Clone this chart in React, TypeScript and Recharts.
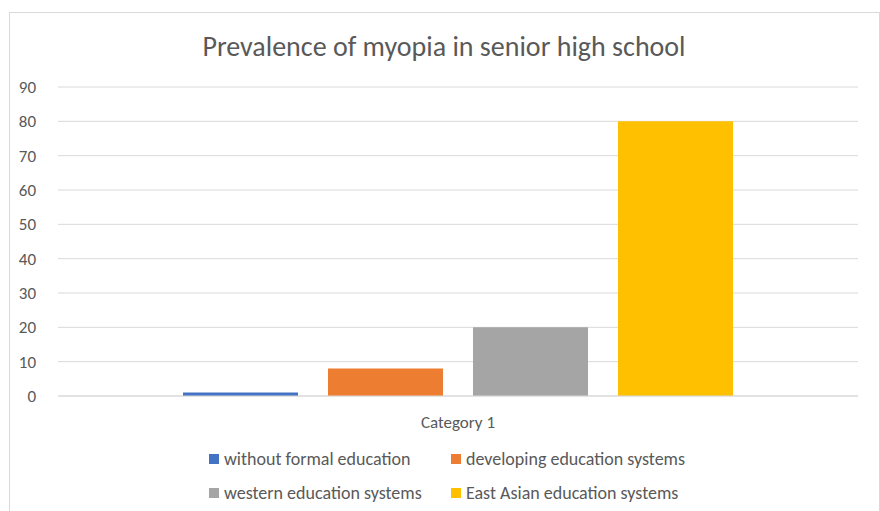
import { BarChart, Bar, XAxis, YAxis, CartesianGrid, Legend } from 'recharts';

const categories = ['Category 1'];
const seriesNames = [
  'without formal education',
  'developing education systems',
  'western education systems',
  'East Asian education systems',
];
const seriesValues = [1, 8, 20, 80];
const seriesColors = ['#4472C4', '#ED7D31', '#A5A5A5', '#FFC000'];
const yTicks = [0, 10, 20, 30, 40, 50, 60, 70, 80, 90];

const FONT = "Calibri, Carlito, 'Noto Sans', sans-serif";
const TEXT = '#595959';

const data = categories.map((name) => {
  const row: { [key: string]: string | number } = { name };
  seriesNames.forEach((s, i) => {
    row[`s${i}`] = seriesValues[i];
  });
  return row;
});

const LegendGrid = () => (
  <div
    style={{
      display: 'grid',
      gridTemplateColumns: '242px 280px',
      rowGap: 12,
      marginLeft: 209,
      paddingTop: 12,
      fontFamily: FONT,
      fontSize: 18,
      color: TEXT,
    }}
  >
    {seriesNames.map((s, i) => (
      <span key={s} style={{ display: 'flex', alignItems: 'center', height: 22, whiteSpace: 'nowrap' }}>
        <span style={{ width: 10, height: 10, background: seriesColors[i], marginRight: 5, flexShrink: 0 }} />
        {s}
      </span>
    ))}
  </div>
);

export default function App() {
  return (
    <div style={{ position: 'absolute', left: 0, top: 0, width: 880, height: 511, background: '#fff', overflow: 'hidden' }}>
      <div
        style={{
          position: 'absolute',
          left: 9,
          top: 12,
          width: 869,
          height: 540,
          border: '1px solid #d9d9d9',
        }}
      />
      <div
        style={{
          position: 'absolute',
          left: 0,
          width: 888,
          top: 29,
          textAlign: 'center',
          fontFamily: FONT,
          fontSize: 28,
          color: TEXT,
        }}
      >
        Prevalence of myopia in senior high school
      </div>
      <div style={{ position: 'absolute', left: 0, top: 0 }}>
        <BarChart
          width={880}
          height={511}
          data={data}
          margin={{ top: 87, right: 22, left: 0, bottom: 0 }}
          barCategoryGap={125}
          barGap={30}
        >
          <CartesianGrid vertical={false} stroke="#d9d9d9" />
          <XAxis
            dataKey="name"
            axisLine={{ stroke: '#d9d9d9' }}
            tickLine={false}
            tick={{ fill: TEXT, fontSize: 17, fontFamily: FONT }}
            tickMargin={14}
            height={40}
          />
          <YAxis
            domain={[0, 90]}
            ticks={yTicks}
            axisLine={false}
            tickLine={false}
            tick={{ fill: TEXT, fontSize: 17, fontFamily: FONT }}
            width={58}
            tickMargin={16}
          />
          <Legend
            verticalAlign="bottom"
            align="left"
            height={75}
            content={() => <LegendGrid />}
            wrapperStyle={{ left: 0, width: 880 }}
          />
          {seriesNames.map((s, i) => (
            <Bar key={s} dataKey={`s${i}`} name={s} fill={seriesColors[i]} isAnimationActive={false} />
          ))}
        </BarChart>
      </div>
    </div>
  );
}
